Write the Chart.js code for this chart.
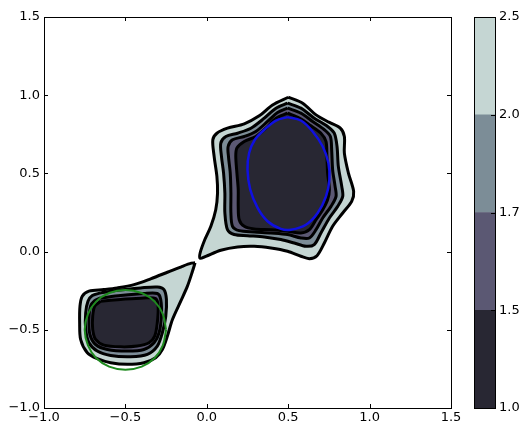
<!DOCTYPE html>
<html>
<head>
<meta charset="utf-8">
<script src="https://cdn.jsdelivr.net/npm/chart.js@4/dist/chart.umd.min.js"></script>
<style>
  html, body { margin: 0; padding: 0; background: #fff; }
  #wrap { position: relative; width: 522px; height: 427px; }
  #mainChart { position: absolute; left: 0; top: 0; }
  #barChart { position: absolute; left: 460px; top: 0; }
</style>
</head>
<body>
<div id="wrap">
  <canvas id="mainChart" width="470" height="427"></canvas>
  <canvas id="barChart" width="62" height="427"></canvas>
</div>
<script>
// Contour levels and axis ticks
const levels = [1.0, 1.5, 1.7, 2.0, 2.5];
const axisTicks = [-1.0, -0.5, 0.0, 0.5, 1.0, 1.5];

// Upper blob contours, [x, y] pairs
const upper25 = [[0.500,0.987],[0.589,0.949],[0.671,0.874],[0.753,0.826],[0.820,0.789],[0.845,0.736],[0.845,0.630],[0.870,0.502],[0.902,0.385],[0.890,0.321],[0.835,0.247],[0.773,0.162],[0.722,0.055],[0.677,-0.026],[0.630,-0.045],[0.578,-0.030],[0.496,0.002],[0.394,0.023],[0.291,0.034],[0.189,0.030],[0.086,0.009],[-0.006,-0.030],[-0.041,-0.043],[-0.041,-0.009],[-0.012,0.077],[0.025,0.162],[0.055,0.268],[0.066,0.374],[0.062,0.481],[0.045,0.609],[0.037,0.715],[0.062,0.757],[0.127,0.789],[0.230,0.817],[0.322,0.868],[0.404,0.938]];
const upper20 = [[0.496,0.949],[0.578,0.917],[0.660,0.853],[0.742,0.800],[0.783,0.757],[0.800,0.672],[0.808,0.545],[0.829,0.417],[0.835,0.353],[0.804,0.289],[0.753,0.215],[0.701,0.119],[0.660,0.045],[0.609,0.034],[0.537,0.055],[0.455,0.077],[0.353,0.094],[0.250,0.102],[0.168,0.109],[0.127,0.140],[0.111,0.247],[0.111,0.374],[0.103,0.502],[0.090,0.609],[0.086,0.694],[0.117,0.736],[0.189,0.757],[0.271,0.789],[0.353,0.853],[0.425,0.917]];
const upper17 = [[0.496,0.917],[0.578,0.885],[0.650,0.832],[0.722,0.779],[0.759,0.736],[0.767,0.651],[0.773,0.523],[0.788,0.417],[0.794,0.353],[0.763,0.289],[0.712,0.215],[0.671,0.140],[0.630,0.087],[0.578,0.087],[0.496,0.109],[0.394,0.119],[0.291,0.126],[0.199,0.134],[0.158,0.162],[0.148,0.247],[0.148,0.374],[0.144,0.502],[0.133,0.609],[0.131,0.672],[0.158,0.715],[0.230,0.736],[0.301,0.768],[0.373,0.832],[0.435,0.889]];
const upper15 = [[0.496,0.885],[0.568,0.853],[0.640,0.804],[0.701,0.757],[0.732,0.704],[0.738,0.609],[0.742,0.502],[0.753,0.396],[0.742,0.332],[0.712,0.268],[0.671,0.204],[0.630,0.140],[0.578,0.119],[0.496,0.130],[0.394,0.140],[0.291,0.145],[0.230,0.162],[0.199,0.204],[0.193,0.289],[0.193,0.396],[0.185,0.502],[0.178,0.609],[0.185,0.662],[0.230,0.704],[0.301,0.736],[0.363,0.789],[0.425,0.853]];

// Lower blob contours
const lower25 = [[-0.072,-0.072],[-0.088,-0.126],[-0.119,-0.221],[-0.160,-0.317],[-0.211,-0.434],[-0.242,-0.540],[-0.273,-0.626],[-0.314,-0.679],[-0.386,-0.711],[-0.488,-0.721],[-0.591,-0.711],[-0.673,-0.685],[-0.734,-0.647],[-0.775,-0.562],[-0.781,-0.455],[-0.779,-0.349],[-0.765,-0.285],[-0.724,-0.253],[-0.632,-0.243],[-0.550,-0.232],[-0.447,-0.211],[-0.345,-0.174],[-0.242,-0.132],[-0.150,-0.094],[-0.095,-0.074]];
const lower20 = [[-0.652,-0.264],[-0.550,-0.247],[-0.406,-0.232],[-0.304,-0.226],[-0.263,-0.243],[-0.248,-0.306],[-0.252,-0.413],[-0.273,-0.519],[-0.304,-0.604],[-0.365,-0.657],[-0.468,-0.672],[-0.591,-0.664],[-0.673,-0.636],[-0.724,-0.583],[-0.744,-0.498],[-0.744,-0.391],[-0.730,-0.317],[-0.703,-0.281]];
const lower17 = [[-0.652,-0.296],[-0.529,-0.281],[-0.386,-0.268],[-0.304,-0.268],[-0.283,-0.306],[-0.279,-0.413],[-0.293,-0.519],[-0.324,-0.583],[-0.386,-0.626],[-0.488,-0.636],[-0.611,-0.626],[-0.683,-0.594],[-0.718,-0.530],[-0.724,-0.434],[-0.714,-0.349],[-0.689,-0.313]];
const lower15 = [[-0.652,-0.317],[-0.529,-0.306],[-0.386,-0.296],[-0.314,-0.300],[-0.299,-0.349],[-0.304,-0.455],[-0.320,-0.540],[-0.355,-0.583],[-0.427,-0.604],[-0.529,-0.609],[-0.632,-0.598],[-0.683,-0.562],[-0.701,-0.498],[-0.701,-0.413],[-0.689,-0.349]];

// Overlaid outlines
const blueRing = [[0.496,0.860],[0.578,0.838],[0.650,0.768],[0.712,0.672],[0.747,0.566],[0.753,0.460],[0.732,0.353],[0.681,0.247],[0.609,0.172],[0.517,0.140],[0.455,0.145],[0.373,0.194],[0.312,0.279],[0.267,0.396],[0.250,0.523],[0.260,0.630],[0.295,0.715],[0.353,0.779],[0.425,0.838]];
const greenRing = [[-0.25,-0.50],[-0.27,-0.40],[-0.32,-0.32],[-0.40,-0.265],[-0.50,-0.245],[-0.60,-0.265],[-0.68,-0.32],[-0.73,-0.40],[-0.75,-0.50],[-0.73,-0.60],[-0.68,-0.68],[-0.60,-0.735],[-0.50,-0.755],[-0.40,-0.735],[-0.32,-0.68],[-0.27,-0.60]];

const bandColors = ['#282733', '#5b5873', '#7c8d97', '#c5d6d3'];
const fontSpec = { family: 'DejaVu Sans', size: 13 };
const fmt = v => (v < 0 ? '\u2212' : '') + Math.abs(v).toFixed(1);

function loop(pts) {
    const out = pts.map(p => ({ x: p[0], y: p[1] }));
    out.push({ x: pts[0][0], y: pts[0][1] });
    return out;
}

function band(pts, color) {
    return {
        data: loop(pts),
        showLine: true,
        fill: 'shape',
        backgroundColor: color,
        borderColor: '#000',
        borderWidth: 3,
        pointRadius: 0,
        tension: 0.3
    };
}

function ring(pts, color, width) {
    return {
        data: loop(pts),
        showLine: true,
        fill: false,
        borderColor: color,
        borderWidth: width,
        pointRadius: 0,
        tension: 0.35
    };
}

// frame + inward tick marks like matplotlib
const frameTicks = {
    id: 'frameTicks',
    afterDatasetsDraw(chart, args, opts) {
        const { ctx, chartArea: a } = chart;
        const len = 4;
        ctx.save();
        ctx.strokeStyle = '#000';
        ctx.lineWidth = 1;
        ctx.beginPath();
        if (opts.x) {
            chart.scales.x.ticks.forEach(t => {
                const px = Math.round(chart.scales.x.getPixelForValue(t.value)) + 0.5;
                ctx.moveTo(px, a.bottom); ctx.lineTo(px, a.bottom - len);
                ctx.moveTo(px, a.top); ctx.lineTo(px, a.top + len);
            });
        }
        const ys = chart.scales.y;
        ys.ticks.forEach(t => {
            const py = Math.round(ys.getPixelForValue(t.value)) + 0.5;
            if (opts.left) { ctx.moveTo(a.left, py); ctx.lineTo(a.left + len, py); }
            ctx.moveTo(a.right, py); ctx.lineTo(a.right - len, py);
        });
        ctx.stroke();
        ctx.strokeRect(Math.round(a.left) + 0.5, Math.round(a.top) + 0.5,
            Math.round(a.right - a.left), Math.round(a.bottom - a.top));
        ctx.restore();
    }
};

new Chart(document.getElementById('mainChart').getContext('2d'), {
    type: 'scatter',
    data: {
        datasets: [
            ring(greenRing, '#1f8a1f', 2),
            ring(blueRing, '#1010e0', 2.5),
            band(upper15, bandColors[0]),
            band(upper17, bandColors[1]),
            band(upper20, bandColors[2]),
            band(upper25, bandColors[3]),
            band(lower15, bandColors[0]),
            band(lower17, bandColors[1]),
            band(lower20, bandColors[2]),
            band(lower25, bandColors[3])
        ]
    },
    options: {
        responsive: false,
        animation: false,
        layout: { padding: { top: 17, right: 19, left: 0, bottom: 0 } },
        plugins: {
            legend: { display: false },
            tooltip: { enabled: false },
            frameTicks: { x: true, left: true }
        },
        scales: {
            x: {
                type: 'linear', min: -1, max: 1.5,
                afterBuildTicks: s => { s.ticks = axisTicks.map(v => ({ value: v })); },
                afterFit: s => { s.height = 19; },
                grid: { display: false, drawTicks: false },
                border: { display: false },
                ticks: { color: '#000', font: fontSpec, padding: 2, maxRotation: 0, autoSkip: false, callback: fmt }
            },
            y: {
                type: 'linear', min: -1, max: 1.5,
                afterBuildTicks: s => { s.ticks = axisTicks.map(v => ({ value: v })); },
                afterFit: s => { s.width = 44; },
                grid: { display: false, drawTicks: false },
                border: { display: false },
                ticks: { color: '#000', font: fontSpec, padding: 4, autoSkip: false, callback: fmt }
            }
        }
    },
    plugins: [frameTicks]
});

// colorbar with uniform spacing between levels
new Chart(document.getElementById('barChart').getContext('2d'), {
    type: 'bar',
    data: {
        labels: [''],
        datasets: bandColors.map((c, i) => ({
            data: [[i, i + 1]],
            backgroundColor: c,
            borderWidth: 0,
            grouped: false,
            barPercentage: 1,
            categoryPercentage: 1
        }))
    },
    options: {
        responsive: false,
        animation: false,
        layout: { padding: { top: 17, bottom: 19, left: 14, right: 0 } },
        plugins: {
            legend: { display: false },
            tooltip: { enabled: false },
            frameTicks: { x: false, left: false }
        },
        scales: {
            x: { display: false },
            y: {
                position: 'right', min: 0, max: levels.length - 1,
                afterBuildTicks: s => { s.ticks = levels.map((v, i) => ({ value: i })); },
                afterFit: s => { s.width = 27; },
                grid: { display: false, drawTicks: false },
                border: { display: false },
                ticks: { color: '#000', font: fontSpec, padding: 4, autoSkip: false,
                    callback: v => levels[v].toFixed(1) }
            }
        }
    },
    plugins: [frameTicks]
});
</script>
</body>
</html>
